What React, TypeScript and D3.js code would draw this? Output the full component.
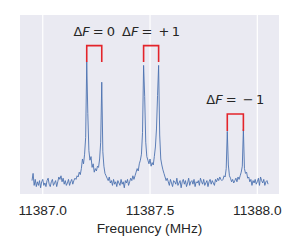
import React, { useEffect, useRef } from "react";
import * as d3 from "d3";

// spectrum sampled every freqStep MHz starting at freqStart (arbitrary units, tallest peak ~100)
const freqStart = 11386.95;
const freqStep = 0.005;
const intensity = [
  2, 8, -2, 3, -3, 1, -2, 2, -4, 1,
  3, -2, 0, -3, 2, 4, -1, -3, 1, 3,
  -2, 0, 2, -3, 1, 5, 3, 6, 1, 4,
  -1, 2, -2, 0, 3, -2, 1, 3, -1, 2,
  4, 3, 6, 5, 9, 7, 12, 20, 16, 24,
  38, 101, 58, 27, 19, 22, 13, 16, 9, 12,
  10, 14, 13, 20, 34, 84, 26, 14, 8, 6,
  4, 2, 5, 0, 2, -2, 3, -1, 1, -3,
  2, 0, -2, 3, -1, 1, -4, 2, 0, 3,
  -2, 1, 4, 2, 6, 3, 6, 9, 12, 10,
  16, 19, 24, 42, 98, 72, 34, 22, 19, 16,
  20, 14, 17, 15, 22, 30, 45, 73, 98, 40,
  20, 15, 11, 8, 5, 2, 4, 1, -2, 3,
  0, -3, 2, 1, -1, 4, -2, 0, 2, -4,
  1, 3, -1, 2, -3, 0, 4, -2, 1, 2,
  -1, 3, -3, 1, 0, 2, -2, 4, 1, -1,
  3, -2, 0, 2, -3, 1, 3, -1, 2, 0,
  -2, 3, 1, 4, 2, 5, 3, 2, 3, 6,
  5, 12, 43, 15, 6, 4, 1, 3, 0, 2,
  4, 1, 5, 3, 6, 9, 14, 45, 12, 8,
  9, 4, 5, 1, 3, -2, 2, 0, 3, -1,
  1, 4, -2, 5, 2, 0, 3, -2, 1, 2,
  -1,
];

const xTicks = [11387.0, 11387.5, 11388.0];

// hyperfine labels and their brackets
const labelSign = ["0", "+1", "\u22121"];
const bracketLeft = [11387.205, 11387.47, 11387.86];
const bracketRight = [11387.275, 11387.54, 11387.935];
const bracketTop = [114.5, 114.5, 57.5];
const bracketBottom = [100.8, 100.8, 43.3];

const App = () => {
  const ref = useRef<SVGSVGElement>(null);

  useEffect(() => {
    const width = 300;
    const height = 250;
    const margin = { top: 15, right: 21, bottom: 56, left: 20 };
    const w = width - margin.left - margin.right;
    const h = height - margin.top - margin.bottom;

    const svg = d3.select(ref.current);
    svg.selectAll("*").remove();

    const x = d3.scaleLinear().domain([11386.894, 11388.101]).range([0, w]);
    const y = d3.scaleLinear().domain([-9.17, 140]).range([h, 0]);

    const g = svg.append("g").attr("transform", `translate(${margin.left},${margin.top})`);

    // axes background
    g.append("rect").attr("width", w).attr("height", h).attr("fill", "#eaeaf2");

    // vertical gridlines
    g.append("g")
      .selectAll("line")
      .data(xTicks)
      .enter()
      .append("line")
      .attr("x1", (d) => x(d))
      .attr("x2", (d) => x(d))
      .attr("y1", 0)
      .attr("y2", h)
      .attr("stroke", "#fff")
      .attr("stroke-width", 1.2);

    // spectrum
    const line = d3
      .line<number>()
      .x((d, i) => x(freqStart + i * freqStep))
      .y((d) => y(d));
    g.append("path")
      .datum(intensity)
      .attr("d", line)
      .attr("fill", "none")
      .attr("stroke", "#4c72b0")
      .attr("stroke-width", 0.9)
      .attr("stroke-linejoin", "round");

    // brackets + labels
    labelSign.forEach((sign, i) => {
      const x0 = x(bracketLeft[i]);
      const x1 = x(bracketRight[i]);
      const yt = y(bracketTop[i]);
      const yb = y(bracketBottom[i]);
      g.append("path")
        .attr("d", `M${x0},${yb}V${yt}H${x1}V${yb}`)
        .attr("fill", "none")
        .attr("stroke", "#e3242b")
        .attr("stroke-width", 1.6);

      const t = g
        .append("text")
        .attr("x", (x0 + x1) / 2)
        .attr("y", y(bracketTop[i] + 8))
        .attr("text-anchor", "middle")
        .style("font-family", "'DejaVu Sans'")
        .style("font-size", "13px")
        .attr("fill", "#262626");
      t.append("tspan").text("\u0394");
      t.append("tspan").style("font-style", "italic").text("F");
      t.append("tspan").attr("dx", 3).text("=");
      if (sign.length === 1) {
        t.append("tspan").attr("dx", 3).text(sign);
      } else {
        t.append("tspan").attr("dx", 6).text(sign[0]);
        t.append("tspan").attr("dx", 2.5).text(sign[1]);
      }
    });

    // x tick labels
    g.append("g")
      .selectAll("text")
      .data(xTicks)
      .enter()
      .append("text")
      .attr("x", (d) => x(d))
      .attr("y", h + 20.5)
      .attr("text-anchor", "middle")
      .style("font-family", "'Liberation Sans', Arial, sans-serif")
      .style("font-size", "13.7px")
      .attr("fill", "#262626")
      .text((d) => d3.format(".1f")(d));

    // axis label
    g.append("text")
      .attr("x", w / 2)
      .attr("y", h + 38.5)
      .attr("text-anchor", "middle")
      .style("font-family", "'Liberation Sans', Arial, sans-serif")
      .style("font-size", "13.7px")
      .attr("fill", "#262626")
      .text("Frequency (MHz)");
  }, []);

  return (
    <svg
      ref={ref}
      width={300}
      height={250}
      style={{ position: "absolute", left: 0, top: 0, background: "#fff" }}
    />
  );
};

export default App;
